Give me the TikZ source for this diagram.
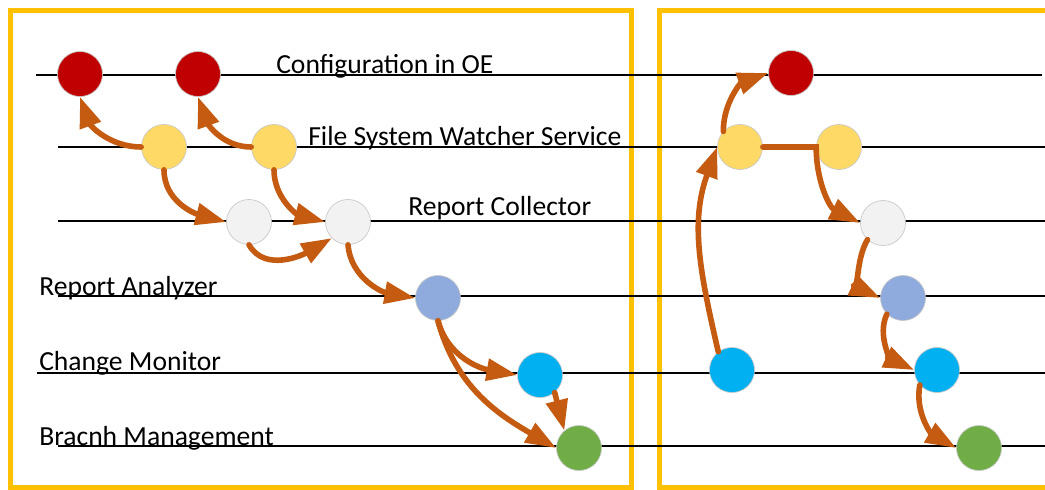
\documentclass[tikz,border=0pt]{standalone}
\usepackage{fontspec}
\setmainfont{Carlito}
\usepackage{tikz}
\usetikzlibrary{arrows.meta}
\definecolor{FlowRed}{RGB}{192,0,0}
\definecolor{FlowYellow}{RGB}{255,217,102}
\definecolor{FlowGrey}{RGB}{242,242,242}
\definecolor{FlowSlate}{RGB}{143,170,220}
\definecolor{FlowCyan}{RGB}{0,176,240}
\definecolor{FlowGreen}{RGB}{112,173,71}
\definecolor{FlowOrange}{RGB}{197,90,17}
\definecolor{FrameGold}{RGB}{255,192,0}

\begin{document}
\begin{tikzpicture}[
    x=0.75pt, y=-0.75pt,
    panel/.style={draw=FrameGold, line width=3.75pt},
    lane/.style={line width=1.5pt, black},
    lbl/.style={anchor=base west, inner sep=0pt, font=\fontsize{20.7}{24}\selectfont},
    dot/.style={circle, draw=black!22, line width=0.5pt, minimum size=33.75pt, inner sep=0pt},
    arr/.style={-{Triangle[length=23pt, width=16pt]}, line width=4.2pt, FlowOrange, line cap=round}
]
\clip (0,0) rectangle (1045,489);
% panels
\draw[panel] (10,10) rectangle (631,487);
\draw[panel] (659,10) rectangle (1080,487);
% lanes
\draw[lane] (36,75) -- (1042,75);
\draw[lane] (58,147) -- (1045,147);
\draw[lane] (58,221) -- (1045,221);
\draw[lane] (58,296) -- (1045,296);
\draw[lane] (37,373) -- (1045,373);
\draw[lane] (58,446) -- (1045,446);
% lane names
\node[lbl] (t1) at (276,73) {Configuration in OE};
\node[lbl] (t2) at (308,145) {File System Watcher Service};
\node[lbl] (t3) at (408,215) {Report Collector};
\node[lbl] (t4) at (39,295) {Report Analyzer};
\node[lbl] (t5) at (39,370) {Change Monitor};
\node[lbl] (t6) at (39,445) {Bracnh Management};
% left history
\node[dot, fill=FlowRed] (r1) at (80,74) {};
\node[dot, fill=FlowRed] (r2) at (198,74) {};
\node[dot, fill=FlowYellow] (y1) at (164,147) {};
\node[dot, fill=FlowYellow] (y2) at (274,147) {};
\node[dot, fill=FlowGrey] (g1) at (249,222) {};
\node[dot, fill=FlowGrey] (g2) at (348,222) {};
\node[dot, fill=FlowSlate] (b1) at (438,298) {};
\node[dot, fill=FlowCyan] (c1) at (540,375) {};
\node[dot, fill=FlowGreen] (e1) at (579,448) {};
% right history
\node[dot, fill=FlowRed] (r3) at (791,73) {};
\node[dot, fill=FlowYellow] (y3) at (740,147) {};
\node[dot, fill=FlowYellow] (y4) at (839,147) {};
\node[dot, fill=FlowGrey] (g3) at (883,223) {};
\node[dot, fill=FlowSlate] (b2) at (903,298) {};
\node[dot, fill=FlowCyan] (c2) at (732,370) {};
\node[dot, fill=FlowCyan] (c3) at (937,370) {};
\node[dot, fill=FlowGreen] (e2) at (979,448) {};
% left flows
\draw[arr] (y1.west) to[out=180, in=-70] (r1.south);
\draw[arr] (y2.west) to[out=180, in=-70] (r2.south);
\draw[arr] (y1.south) to[out=-90, in=165] (g1.west);
\draw[arr] (y2.south) to[out=-90, in=165] (g2.west);
\draw[arr] (g1.south) to[out=-60, in=210] (g2.south west);
\draw[arr] (g2.south) to[out=-85, in=170] (b1.west);
\draw[arr] (b1.south) to[out=-75, in=170] (c1.west);
\draw[arr] (b1.south) to[out=-75, in=150] (e1.west);
\draw[arr] (c1.-50) -- (e1.130);
% right flows
\draw[arr] (c2.127) to[out=103, in=-110] (y3.west);
\draw[arr] (y3.137) to[out=90, in=200] (r3.west);
\draw[arr] (y3.east) -- (y4.west) to[out=-90, in=153] (g3.west);
\draw[arr] (g3.-133) to[out=-120, in=155] (b2.west);
\draw[arr] (b2.-135) to[out=-115, in=155] (c3.west);
\draw[arr] (c3.-139) to[out=-100, in=150] (e2.west);
\end{tikzpicture}
\end{document}
